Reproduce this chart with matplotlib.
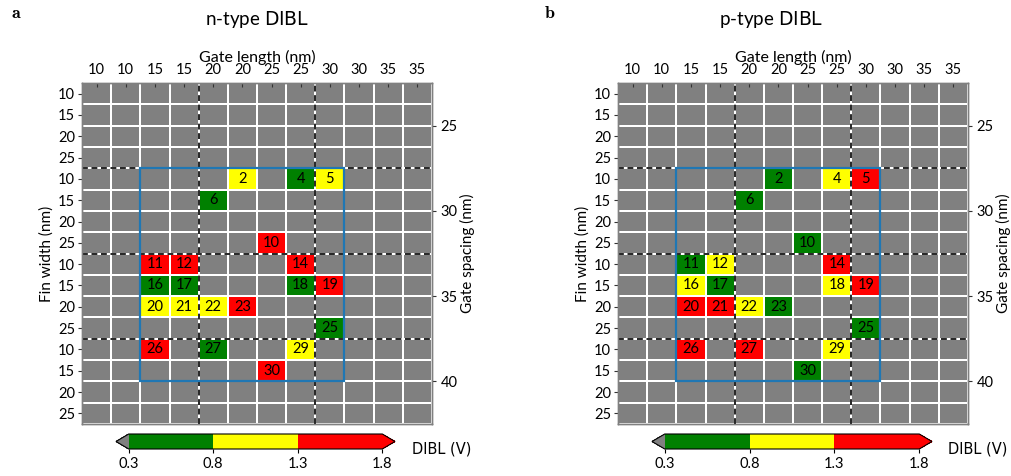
import numpy as np
import matplotlib
matplotlib.use("Agg")
import matplotlib.pyplot as plt
from matplotlib.colors import ListedColormap, BoundaryNorm
from matplotlib.patches import Rectangle

plt.rcParams["font.family"] = ["Lato", "DejaVu Sans"]
plt.rcParams["mathtext.fontset"] = "dejavusans"

# Axis tick labels
gate_length_labels = [10, 10, 15, 15, 20, 20, 25, 25, 30, 30, 35, 35]
fin_width_labels = [10, 15, 20, 25] * 4
gate_spacing_labels = [25, 30, 35, 40]

# Device positions on the layout grid (row, column) and their IDs
device_ids = [2, 4, 5, 6, 10, 11, 12, 14, 16, 17, 18, 19, 20, 21, 22, 23, 25, 26, 27, 29, 30]
device_rows = [4, 4, 4, 5, 7, 8, 8, 8, 9, 9, 9, 9, 10, 10, 10, 10, 11, 12, 12, 12, 13]
device_cols = [5, 7, 8, 4, 6, 2, 3, 7, 2, 3, 7, 8, 2, 3, 4, 5, 8, 2, 4, 7, 6]

# DIBL (V) of each device
dibl_n = [1.05, 0.62, 0.98, 0.58, 1.52, 1.61, 1.55, 1.47, 0.66, 0.71, 0.64, 1.44,
          1.12, 1.08, 1.15, 1.42, 0.57, 1.66, 0.52, 1.02, 1.58]
dibl_p = [0.61, 1.07, 1.45, 0.55, 0.68, 0.74, 0.93, 1.50, 1.04, 0.69, 1.10, 1.57,
          1.63, 1.48, 0.97, 0.59, 0.63, 1.54, 1.41, 1.18, 0.56]

bounds = [0.3, 0.8, 1.3, 1.8]
cbar_ticks = [0.3, 0.8, 1.3, 1.8]

cmap = ListedColormap(["#008000", "#ffff00", "#ff0000"])
cmap.set_under("#808080")
cmap.set_over("#ff0000")
norm = BoundaryNorm(bounds, cmap.N)

W, H = 1012, 476
fig = plt.figure(figsize=(W / 100, H / 100), dpi=100)


def fx(px):
    return px / W


def fy(py):
    return 1 - py / H


def draw_panel(left_px, values, title, title_x_px, letter, letter_x_px, cbar_left_px, cbar_right_px, label_x_px):
    nrows, ncols = len(fin_width_labels), len(gate_length_labels)
    ax = fig.add_axes([fx(left_px), fy(424), fx(350), 341 / H])
    grid = np.zeros((nrows, ncols))
    for r, c, v in zip(device_rows, device_cols, values):
        grid[r, c] = v
    mesh = ax.pcolormesh(np.arange(ncols + 1), np.arange(nrows + 1), grid,
                         cmap=cmap, norm=norm, edgecolors="white", linewidth=1.2)
    ax.set_xlim(0, ncols)
    ax.set_ylim(nrows, 0)

    for r, c, i in zip(device_rows, device_cols, device_ids):
        ax.text(c + 0.5, r + 0.5, str(i), ha="center", va="center", fontsize=10.5, color="black")

    for x in (4, 8):
        ax.axvline(x, color="black", ls="--", lw=1.2, dashes=(3.5, 2.2), zorder=4)
    for y in (4, 8, 12):
        ax.axhline(y, color="black", ls="--", lw=1.2, dashes=(3.5, 2.2), zorder=4)

    ax.add_patch(Rectangle((2, 4), 7, 10, fill=False, edgecolor="#1f77b4", lw=1.6, zorder=5))

    ax.xaxis.tick_top()
    ax.xaxis.set_label_position("top")
    ax.set_xticks(np.arange(ncols) + 0.5)
    ax.set_xticklabels(gate_length_labels)
    ax.set_yticks(np.arange(nrows) + 0.5)
    ax.set_yticklabels(fin_width_labels)
    ax.tick_params(axis="x", direction="in", length=3, width=0.8, color="#333333",
                   labelsize=10.5, pad=4, top=True, bottom=False)
    ax.tick_params(axis="y", direction="out", length=3, width=0.8, color="#333333",
                   labelsize=10.5, pad=2)
    ax.set_xlabel("Gate length (nm)", fontsize=11.5, labelpad=1)
    ax.set_ylabel("Fin width (nm)", fontsize=11, labelpad=3)

    ax2 = ax.twinx()
    ax2.set_ylim(nrows, 0)
    ax2.set_yticks([2, 6, 10, 14])
    ax2.set_yticklabels(gate_spacing_labels)
    ax2.tick_params(axis="y", direction="out", length=3, width=0.8, color="#333333",
                    labelsize=10.5, pad=3)
    ax2.set_ylabel("Gate spacing (nm)", fontsize=11, labelpad=2)

    for a in (ax, ax2):
        for s in a.spines.values():
            s.set_color("#808080")
            s.set_linewidth(1.0)

    cax = fig.add_axes([fx(cbar_left_px), fy(449), fx(cbar_right_px - cbar_left_px), 15 / H])
    cb = fig.colorbar(mesh, cax=cax, orientation="horizontal", extend="both",
                      ticks=cbar_ticks, extendfrac=0.05)
    cb.ax.set_xticklabels([f"{t:.1f}" for t in cbar_ticks])
    cb.ax.tick_params(length=3, width=0.8, labelsize=10.5, pad=3)
    cb.outline.set_linewidth(0.8)

    fig.text(fx(label_x_px), fy(449), "DIBL (V)", family="DejaVu Sans",
             fontsize=10.5, ha="left", va="center")
    fig.text(fx(title_x_px), fy(20), title + r" $\mathrm{DIBL}$", fontsize=13.5,
             ha="center", va="center")
    fig.text(fx(letter_x_px), fy(13), r"$\mathbf{" + letter + "}$", math_fontfamily="cm",
             fontsize=13, ha="center", va="center")


draw_panel(82, dibl_n, "n-type", 257, "a", 16, 116, 395, 412)
draw_panel(618, dibl_p, "p-type", 771, "b", 550, 652, 932, 948)

fig.savefig("out.png", dpi=100)
